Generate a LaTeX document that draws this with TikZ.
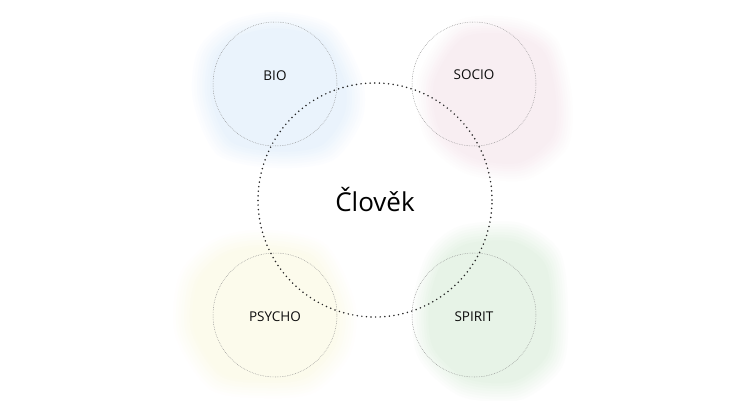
\documentclass[tikz,border=0pt]{standalone}
\usepackage{fontspec}
\setmainfont{Open Sans}
\definecolor{cblue}{RGB}{234,243,252}
\definecolor{cpink}{RGB}{248,238,242}
\definecolor{cyell}{RGB}{252,251,236}
\definecolor{cgreen}{RGB}{231,243,231}
\newcommand\myblob[4]{%
  \foreach \k in {0,...,7}{%
    \pgfmathsetmacro\s{1-\k*0.03}%
    \pgfmathsetmacro\c{(\k+1)*12.5}%
    \fill[#3!\c!white, shift={(#1,#2)}, scale=\s] plot[smooth cycle] coordinates {#4};
  }}
\tikzset{
  small/.style={circle, minimum size=124pt, inner sep=0pt, draw=black!45, line width=0.5pt, dash pattern=on 0.6pt off 1.1pt},
  big/.style={circle, minimum size=234pt, inner sep=0pt, draw=black!85, line width=1.7pt, line cap=round, dash pattern=on 0pt off 4.6pt, font=\fontsize{26}{30}\selectfont, text=black},
  lbl/.style={font=\fontsize{13.5}{16}\selectfont, text=black!95}
}
\begin{document}
\begin{tikzpicture}[x=1pt,y=-1pt]
\useasboundingbox (0,0) rectangle (750,400);
\fill[white] (0,0) rectangle (750,400);
\myblob{278}{90}{cblue}{(0,-78) (55,-64) (84,-12) (84,30) (55,70) (0,78) (-60,65) (-85,10) (-80,-40) (-50,-68)}
\myblob{495}{98}{cpink}{(-40,-76) (20,-80) (62,-58) (77,0) (72,50) (30,82) (-30,75) (-70,40) (-77,-20)}
\myblob{265}{314}{cyell}{(0,-84) (60,-70) (90,-10) (85,40) (50,78) (0,84) (-55,75) (-90,20) (-85,-40) (-50,-75)}
\myblob{490}{312}{cgreen}{(-30,-86) (30,-89) (70,-60) (78,0) (72,55) (30,88) (-30,84) (-72,45) (-77,-10) (-62,-60)}
\node[big] (c) at (375,200) {Člověk};
\node[small] (bio) at (275,84) {};
\node[small] (socio) at (474,84) {};
\node[small] (psycho) at (275,315) {};
\node[small] (spirit) at (474,315) {};
\node[lbl] (tbio) at (275,76) {BIO};
\node[lbl] (tsocio) at (474,75) {SOCIO};
\node[lbl] (tpsycho) at (275,317) {PSYCHO};
\node[lbl] (tspirit) at (474,317) {SPIRIT};
\end{tikzpicture}
\end{document}
